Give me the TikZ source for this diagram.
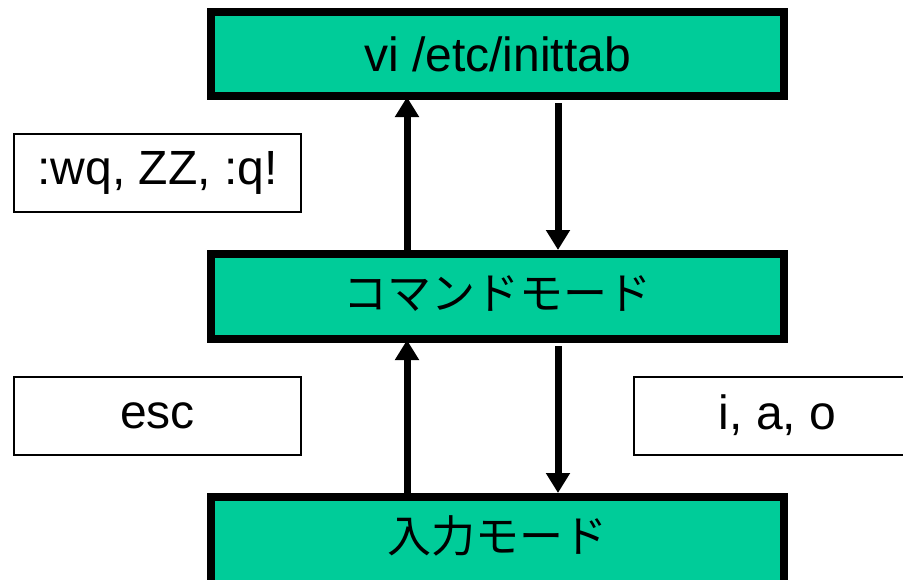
\documentclass[tikz,border=0pt]{standalone}
\usepackage{fontspec}
\setmainfont{Liberation Sans}
\newfontfamily\jafont{Noto Sans CJK JP}
\usetikzlibrary{arrows.meta}
\definecolor{modegreen}{RGB}{0,204,153}
\tikzset{
  modebox/.style={draw=black, fill=modegreen, line width=8pt,
    minimum width=573pt, inner sep=0pt, font=\fontsize{48}{56}\selectfont},
  keybox/.style={draw=black, fill=white, line width=2pt,
    minimum width=287pt, minimum height=78pt, inner sep=0pt,
    font=\fontsize{48}{56}\selectfont},
  flow/.style={line width=7pt, -{Triangle[width=23pt,length=20pt]}},
}
% Japanese label, placed by its baseline relative to the node centre
\newcommand\jatext[2]{\raisebox{#1}[0pt][0pt]{\jafont\fontsize{44}{52}\selectfont #2}}
\begin{document}
\begin{tikzpicture}[x=1pt,y=-1pt]
  \useasboundingbox (0,0) rectangle (903,579);
  \clip (0,0) rectangle (903,579);
  % mode boxes
  \node[modebox, minimum height=84pt] (top) at (497.5,54) {vi /etc/inittab};
  \node[modebox, minimum height=85pt] (cmd) at (497.5,296.5) {\jatext{-13pt}{コマンドモード}};
  \node[modebox, minimum height=90pt] (input) at (497.5,542) {\jatext{-10pt}{入力モード}};
  % key boxes
  \node[keybox] (quit) at (157.5,173) {:wq, ZZ, :q!};
  \node[keybox] (esc) at (157.5,415.5) {esc};
  \node[keybox] (ins) at (777.5,415.5) {i, a, o};
  % transitions
  \draw[flow, shorten >=-3pt] ([xshift=-90.5pt]cmd.north) -- ([xshift=-90.5pt]top.south);
  \draw[flow, shorten <=3pt] ([xshift=60.5pt]top.south) -- ([xshift=60.5pt]cmd.north);
  \draw[flow, shorten >=-3pt] ([xshift=-90.5pt]input.north) -- ([xshift=-90.5pt]cmd.south);
  \draw[flow, shorten <=3pt] ([xshift=60.5pt]cmd.south) -- ([xshift=60.5pt]input.north);
\end{tikzpicture}
\end{document}
